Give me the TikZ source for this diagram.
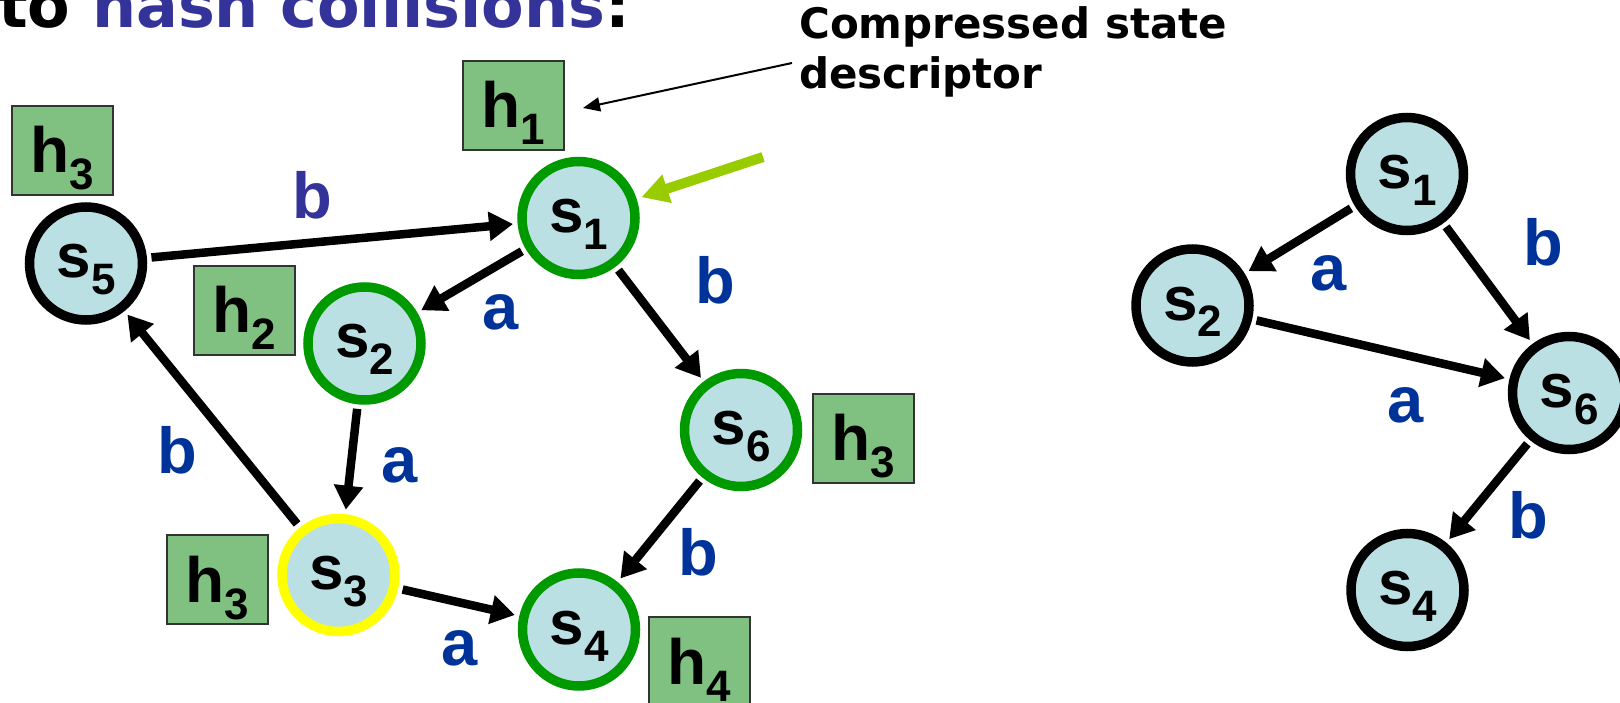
\documentclass[tikz,border=0pt]{standalone}
\usepackage{fontspec}
\setmainfont{Liberation Sans}
\newfontfamily\tahomaf{DejaVu Sans}
\usetikzlibrary{arrows.meta}
\definecolor{nodefill}{HTML}{BBE0E3}
\definecolor{ringgreen}{HTML}{009900}
\definecolor{ringyellow}{HTML}{FFFF00}
\definecolor{hashfill}{HTML}{80C080}
\definecolor{lblblue}{HTML}{003399}
\definecolor{ttlblue}{HTML}{333399}
\definecolor{pointgreen}{HTML}{99CC00}
\newcommand{\mysub}[1]{\raisebox{-17pt}{\fontsize{44}{44}\selectfont #1}}
\begin{document}
\begin{tikzpicture}[x=1pt,y=-1pt,
  state/.style={circle, draw=black, line width=9.5pt, fill=nodefill, minimum size=113pt, inner sep=0pt,
    font=\fontsize{62}{62}\selectfont\bfseries, text height=46pt, text depth=17pt},
  greenstate/.style={state, draw=ringgreen},
  yellowstate/.style={state, draw=ringyellow},
  hashbox/.style={rectangle, draw=black!80, line width=2pt, fill=hashfill, minimum width=101pt, minimum height=89pt,
    inner sep=0pt, font=\fontsize{64}{64}\selectfont\bfseries, text height=62pt, text depth=17pt},
  edge/.style={line width=8.5pt, -{Triangle[length=24pt,width=28pt]}, shorten >=4.5pt, shorten <=4.5pt},
  lbl/.style={text=lblblue, font=\fontsize{65}{65}\selectfont\bfseries, inner sep=0pt},
  anntext/.style={anchor=base west, inner sep=0pt, font=\tahomaf\bfseries\fontsize{42}{42}\selectfont},
]
\clip (0,0) rectangle (1620,703);

% title
\node[anchor=base west, inner sep=0pt, font=\tahomaf\bfseries\fontsize{62}{62}\selectfont] (title) at (-2,28)
  {to \textcolor{ttlblue}{hash collisions}:};

% annotation
\node[anntext] (ann1) at (799,39) {Compressed state};
\node[anntext] (ann2) at (799,89) {descriptor};
\coordinate (annstart) at (792,63);
\coordinate (anntip) at (583,108);
\coordinate (gstart) at (763,157);

% left graph states
\node[greenstate] (ls1) at (578.5,218) {s\mysub{1}};
\node[greenstate] (ls2) at (364.5,343.5) {s\mysub{2}};
\node[yellowstate] (ls3) at (338.5,575) {s\mysub{3}};
\node[greenstate] (ls4) at (579,629.5) {s\mysub{4}};
\node[state] (ls5) at (86,263.5) {s\mysub{5}};
\node[greenstate] (ls6) at (741,430) {s\mysub{6}};

% hash boxes
\node[hashbox] (h5) at (62,150.5) {h\mysub{3}};
\node[hashbox] (h1) at (513.5,105.5) {h\mysub{1}};
\node[hashbox] (h2) at (244.5,310.5) {h\mysub{2}};
\node[hashbox] (h6) at (863.5,438) {h\mysub{3}};
\node[hashbox] (h3) at (217.5,579.5) {h\mysub{3}};
\node[hashbox] (h4) at (699.5,661.5) {h\mysub{4}};

% left edges
\draw[edge] (ls5) -- (ls1);
\draw[edge] (ls1) -- (ls2);
\draw[edge] (ls1) -- (ls6);
\draw[edge] (ls2) -- (ls3);
\draw[edge] (ls3) -- (ls5);
\draw[edge] (ls3) -- (ls4);
\draw[edge] (ls6) -- (ls4);

% left labels
\node[lbl, text=ttlblue] (lb1) at (312,195) {b};
\node[lbl] (la1) at (501,312) {a};
\node[lbl] (lb2) at (715,280) {b};
\node[lbl] (la2) at (400,465) {a};
\node[lbl] (lb3) at (177,450) {b};
\node[lbl] (lb4) at (698,552) {b};
\node[lbl] (la3) at (460,648) {a};

% pointers
\draw[line width=2pt, -{Triangle[length=17pt,width=14pt]}] (annstart) -- (anntip);
\draw[pointgreen, line width=10pt, -{Triangle[length=27pt,width=28pt]}, shorten >=5pt] (gstart) -- (ls1);

% right graph
\node[state] (rs1) at (1407,174) {s\mysub{1}};
\node[state] (rs2) at (1192.5,305.5) {s\mysub{2}};
\node[state] (rs6) at (1569,393) {s\mysub{6}};
\node[state] (rs4) at (1407.5,590) {s\mysub{4}};
\draw[edge] (rs1) -- (rs2);
\draw[edge] (rs1) -- (rs6);
\draw[edge] (rs2) -- (rs6);
\draw[edge] (rs6) -- (rs4);
\node[lbl] (ra1) at (1329,273) {a};
\node[lbl] (rb1) at (1543,242) {b};
\node[lbl] (ra2) at (1406,405) {a};
\node[lbl] (rb2) at (1528,515) {b};
\end{tikzpicture}
\end{document}
